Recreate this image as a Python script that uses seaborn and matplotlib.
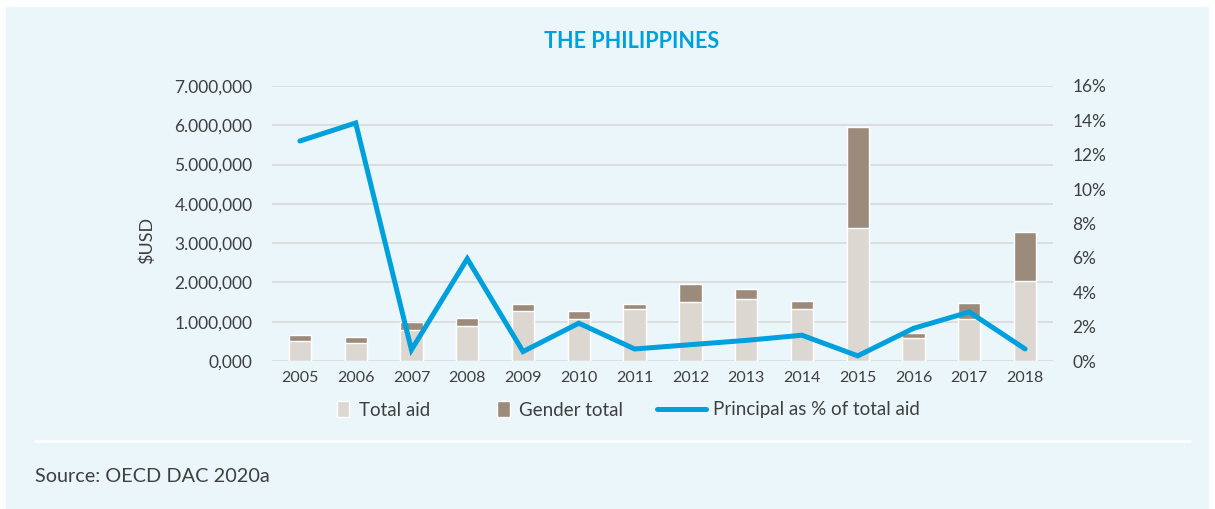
import numpy as np
import pandas as pd
import matplotlib.pyplot as plt
import seaborn as sns
from matplotlib.patches import Rectangle
from matplotlib.lines import Line2D

years = [2005, 2006, 2007, 2008, 2009, 2010, 2011, 2012, 2013, 2014, 2015, 2016, 2017, 2018]
total_aid = [520000, 465000, 795000, 900000, 1285000, 1070000, 1330000, 1510000, 1575000, 1330000, 3390000, 585000, 1060000, 2035000]
gender_total = [150000, 135000, 205000, 185000, 170000, 200000, 110000, 455000, 255000, 200000, 2565000, 135000, 425000, 1255000]
principal_pct = [12.8, 13.85, 0.65, 5.95, 0.55, 2.2, 0.7, 0.95, 1.2, 1.5, 0.3, 1.9, 2.85, 0.7]

left_ticks = [0, 1e6, 2e6, 3e6, 4e6, 5e6, 6e6, 7e6]
left_labels = ["0,000", "1.000,000", "2.000,000", "3.000,000", "4.000,000",
               "5.000,000", "6.000,000", "7.000,000"]
right_ticks = [0, 2, 4, 6, 8, 10, 12, 14, 16]
right_labels = ["0%", "2%", "4%", "6%", "8%", "10%", "12%", "14%", "16%"]

BG = "#EBF6FB"
C_TOTAL = "#DCD7D1"
C_GENDER = "#9C8B7B"
C_LINE = "#00A0DC"
TXT = "#3F3F3F"

df = pd.DataFrame({"year": years, "total": total_aid, "gender": gender_total,
                   "pct": principal_pct})
df["stack"] = df["total"] + df["gender"]

sns.set_style("white")
plt.rcParams['font.family'] = ['Lato', 'DejaVu Sans']

fig = plt.figure(figsize=(12.15, 5.09), dpi=100)
fig.patch.set_facecolor("white")
fig.patches.append(Rectangle((6 / 1215, 0), 1203 / 1215, 1 - 7 / 509,
                             transform=fig.transFigure, facecolor=BG,
                             edgecolor="none", zorder=-10))
fig.lines.append(Line2D([35 / 1215, 1190 / 1215], [1 - 441 / 509] * 2,
                        transform=fig.transFigure, color="white", lw=2))

ax = fig.add_axes([272 / 1215, 1 - 361 / 509, 781 / 1215, 275 / 509])
ax.set_facecolor("none")

# stacked bars: gender on top of total aid
sns.barplot(data=df, x="year", y="stack", native_scale=True, width=0.4,
            color=C_GENDER, saturation=1, errorbar=None, ax=ax, zorder=2)
sns.barplot(data=df, x="year", y="total", native_scale=True, width=0.4,
            color=C_TOTAL, saturation=1, errorbar=None, ax=ax, zorder=3)

ax.set_xlim(2004.5, 2018.5)
ax.set_ylim(0, 7e6)
ax.set_yticks(left_ticks)
ax.set_yticklabels(left_labels)
ax.set_xticks(years)
ax.set_xticklabels([str(y) for y in years])
ax.yaxis.grid(True, color="#D9D9D9", lw=1.2, zorder=0)
ax.set_axisbelow(True)
for s in ax.spines.values():
    s.set_visible(False)
ax.tick_params(axis="y", length=0, pad=14, labelsize=12.5, labelcolor=TXT)
ax.tick_params(axis="x", length=0, pad=7, labelsize=11.5, labelcolor=TXT)
ax.set_xlabel("")
ax.set_ylabel("$USD", fontsize=13, color=TXT)
ax.yaxis.set_label_coords(-0.150, 0.44)

ax2 = ax.twinx()
sns.lineplot(data=df, x="year", y="pct", color=C_LINE, lw=3.6, ax=ax2,
             solid_capstyle="round", solid_joinstyle="miter", zorder=5)
ax2.set_ylim(0, 16)
ax2.set_yticks(right_ticks)
ax2.set_yticklabels(right_labels)
ax2.set_ylabel("")
for s in ax2.spines.values():
    s.set_visible(False)
ax2.tick_params(axis="y", length=0, pad=14, labelsize=12.5, labelcolor=TXT)
ax2.set_xlim(2004.5, 2018.5)

fig.text(632 / 1215, 1 - 42 / 509, "THE PHILIPPINES", ha="center", va="center",
         fontsize=15.5, fontweight="bold", color=C_LINE)

# legend in two parts so square and line handles get their own lengths
sq = [Rectangle((0, 0), 1, 1, facecolor=C_TOTAL),
      Rectangle((0, 0), 1, 1, facecolor=C_GENDER)]
leg1 = fig.legend(sq, ["Total aid", "Gender total"], loc="center left",
                  bbox_to_anchor=(337 / 1215, 1 - 410 / 509), ncol=2,
                  frameon=False, fontsize=13.5, labelcolor=TXT,
                  handlelength=0.65, handleheight=0.95, columnspacing=3.6,
                  handletextpad=0.5, borderpad=0, borderaxespad=0)
ln = [Line2D([0], [0], color=C_LINE, lw=3.6, solid_capstyle="round")]
leg2 = fig.legend(ln, ["Principal as % of total aid"], loc="center left",
                  bbox_to_anchor=(657 / 1215, 1 - 410 / 509), frameon=False,
                  fontsize=13.5, labelcolor=TXT, handlelength=2.6,
                  handletextpad=0.4, borderpad=0, borderaxespad=0)

fig.text(35 / 1215, 1 - 476 / 509, "Source: OECD DAC 2020a", ha="left",
         va="center", fontsize=14.3, color=TXT)

fig.savefig("out.png", dpi=100, facecolor=fig.get_facecolor())
